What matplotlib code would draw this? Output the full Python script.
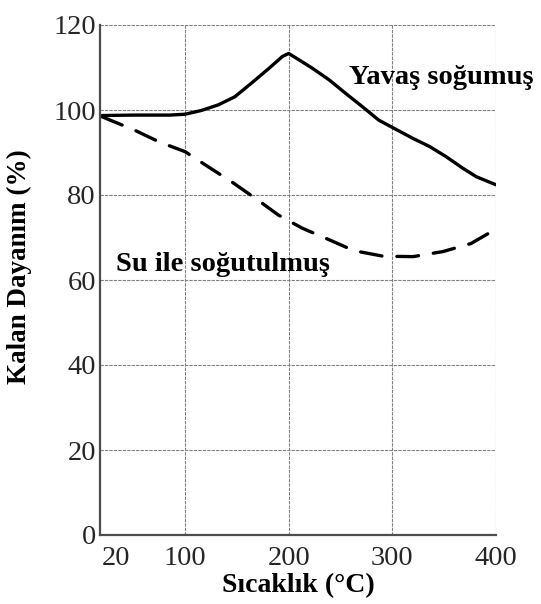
import matplotlib
matplotlib.use("Agg")
import matplotlib.pyplot as plt

# Yavaş soğumuş (slowly cooled)
slow_temp = [20, 50, 85, 100, 116, 132, 148, 164, 181, 194, 200, 210, 223, 239,
             255, 271, 287, 300, 320, 336, 352, 368, 381, 400]
slow_strength = [98.7, 98.8, 98.8, 99.0, 99.9, 101.2, 103.1, 106.3, 109.8, 112.6,
                 113.3, 111.8, 109.8, 107.1, 103.9, 100.8, 97.6, 95.9, 93.3, 91.4,
                 89.0, 86.3, 84.3, 82.4]

# Su ile soğutulmuş (water quenched)
quench_temp = [20, 51, 75, 100, 122, 145, 168, 190, 213, 236, 263, 291, 320, 349,
               376, 393, 400]
quench_strength = [98.4, 95.3, 92.5, 90.2, 86.7, 83.1, 79.2, 75.3, 72.2, 69.8,
                   66.9, 65.6, 65.5, 66.7, 68.6, 71.0, 72.0]

x_ticks = [20, 100, 200, 300, 400]
y_ticks = [0, 20, 40, 60, 80, 100, 120]

plt.rcParams["font.family"] = ["Liberation Serif", "DejaVu Serif"]

fig = plt.figure(figsize=(5.41, 6.04), dpi=100)
ax = fig.add_axes([100 / 541, 69 / 604, 396 / 541, 510 / 604])

ax.plot(slow_temp, slow_strength, color="black", linewidth=2.4,
        solid_capstyle="round", solid_joinstyle="round")
ax.plot(quench_temp, quench_strength, color="black", linewidth=2.4,
        dashes=(6.5, 4.5), dash_capstyle="round")

ax.set_xlim(18, 400)
ax.set_ylim(0, 120)
ax.set_xticks(x_ticks)
ax.set_yticks(y_ticks)
ax.grid(True, color="0.5", linewidth=0.8, linestyle=(0, (3, 1)))
ax.set_axisbelow(True)
# the first vertical grid line would double the left spine
ax.xaxis.get_gridlines()[0].set_visible(False)

for side in ["top", "right"]:
    ax.spines[side].set_visible(False)
for side in ["left", "bottom"]:
    ax.spines[side].set_linewidth(1.6)
    ax.spines[side].set_color("0.3")

ax.tick_params(axis="both", length=0, labelsize=20.5, colors="0.15")
ax.tick_params(axis="x", pad=8)
ax.tick_params(axis="y", pad=3)
ax.get_xticklabels()[0].set_horizontalalignment("left")

ax.set_xlabel("Sıcaklık (°C)", fontsize=20, fontweight="bold")
ax.xaxis.label.set_verticalalignment("center")
ax.xaxis.set_label_coords(0.5, -0.100)
ax.set_ylabel("Kalan Dayanım (%)", fontsize=19.5, fontweight="bold")
ax.yaxis.set_label_coords(-0.172, 0.526)

ax.text(347, 107.6, "Yavaş soğumuş", fontsize=20.5, fontweight="bold",
        ha="center", va="center", clip_on=False)
ax.text(137, 63.6, "Su ile soğutulmuş", fontsize=20.5, fontweight="bold",
        ha="center", va="center")

fig.savefig("out.png", dpi=100)
